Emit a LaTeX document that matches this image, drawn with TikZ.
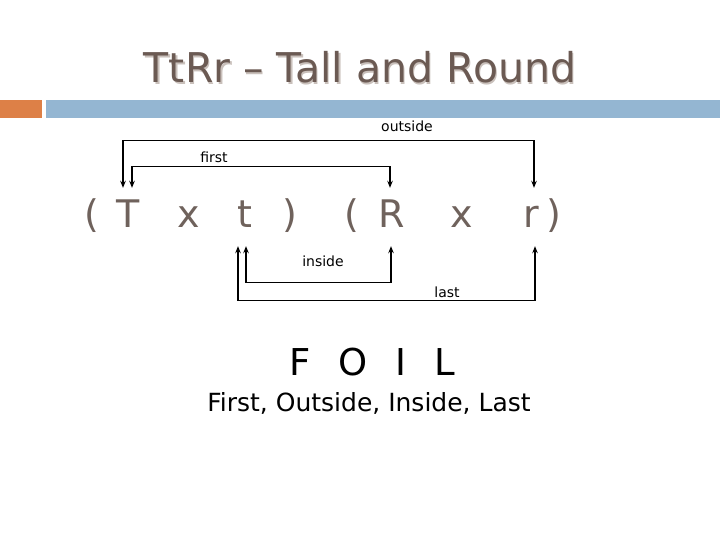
\documentclass[tikz,border=0pt]{standalone}
\usepackage{fontspec}
\setmainfont{DejaVu Sans}
\usetikzlibrary{arrows.meta}
\definecolor{ttl}{HTML}{6B5A53}
\definecolor{ttlsh}{HTML}{C9C0BB}
\definecolor{lett}{HTML}{6F625C}
\definecolor{barO}{HTML}{DD8047}
\definecolor{barB}{HTML}{94B6D2}
\tikzset{
  title/.style={font=\fontsize{41}{41}\selectfont, anchor=base, inner sep=0pt},
  letter/.style={font=\fontsize{38}{38}\selectfont, text=lett, anchor=base, inner sep=0pt, text height=39pt, text depth=19pt},
  lab/.style={font=\fontsize{14}{14}\selectfont, anchor=base, inner sep=0pt},
  arr/.style={line width=1.2pt, {Stealth[length=7pt,width=5.5pt]}-{Stealth[length=7pt,width=5.5pt]}},
}
\begin{document}
\begin{tikzpicture}[x=1pt,y=-1pt]
\useasboundingbox[fill=white] (0,0) rectangle (720,540);
% title
\node[title, text=ttlsh] (tsh) at (361.5,84.5) {TtRr – Tall and Round};
\node[title, text=ttl] (title) at (360,83) {TtRr – Tall and Round};
% bars
\fill[barO] (0,100) rectangle (42,118);
\fill[barB] (46,100) rectangle (720,118);
% letters
\node[letter] (lp1) at (92,227) {(};
\node[letter] (T) at (128,227) {T};
\node[letter] (x1) at (189,227) {x};
\node[letter] (t) at (245,227) {t};
\node[letter] (rp1) at (290,227) {)};
\node[letter] (lp2) at (352,227) {(};
\node[letter] (R) at (392,227) {R};
\node[letter] (x2) at (462,227) {x};
\node[letter] (r) at (531,227) {r};
\node[letter] (rp2) at (554,227) {)};
% connectors
\draw[arr] ([xshift=-5pt]T.north) -- ++(0,-47) -| ([xshift=3pt]r.north);
\draw[arr] ([xshift=4pt]T.north) -- ++(0,-21) -| ([xshift=-2pt]R.north);
\draw[arr] ([xshift=1pt]t.south) -- ++(0,36) -| ([xshift=-1pt]R.south);
\draw[arr] ([xshift=-7pt]t.south) -- ++(0,54) -| ([xshift=4pt]r.south);
% labels
\node[lab] (lout) at (407,132) {outside};
\node[lab] (lfirst) at (214,163) {first};
\node[lab] (lin) at (323,266) {inside};
\node[lab] (llast) at (447,297) {last};
% FOIL
\node[font=\fontsize{37}{37}\selectfont, anchor=base, inner sep=0pt] (foil) at (372,375) {\spaceskip=28pt F O I L};
\node[font=\fontsize{25}{25}\selectfont, anchor=base, inner sep=0pt] (sub) at (369,411) {First, Outside, Inside, Last};
\end{tikzpicture}
\end{document}
